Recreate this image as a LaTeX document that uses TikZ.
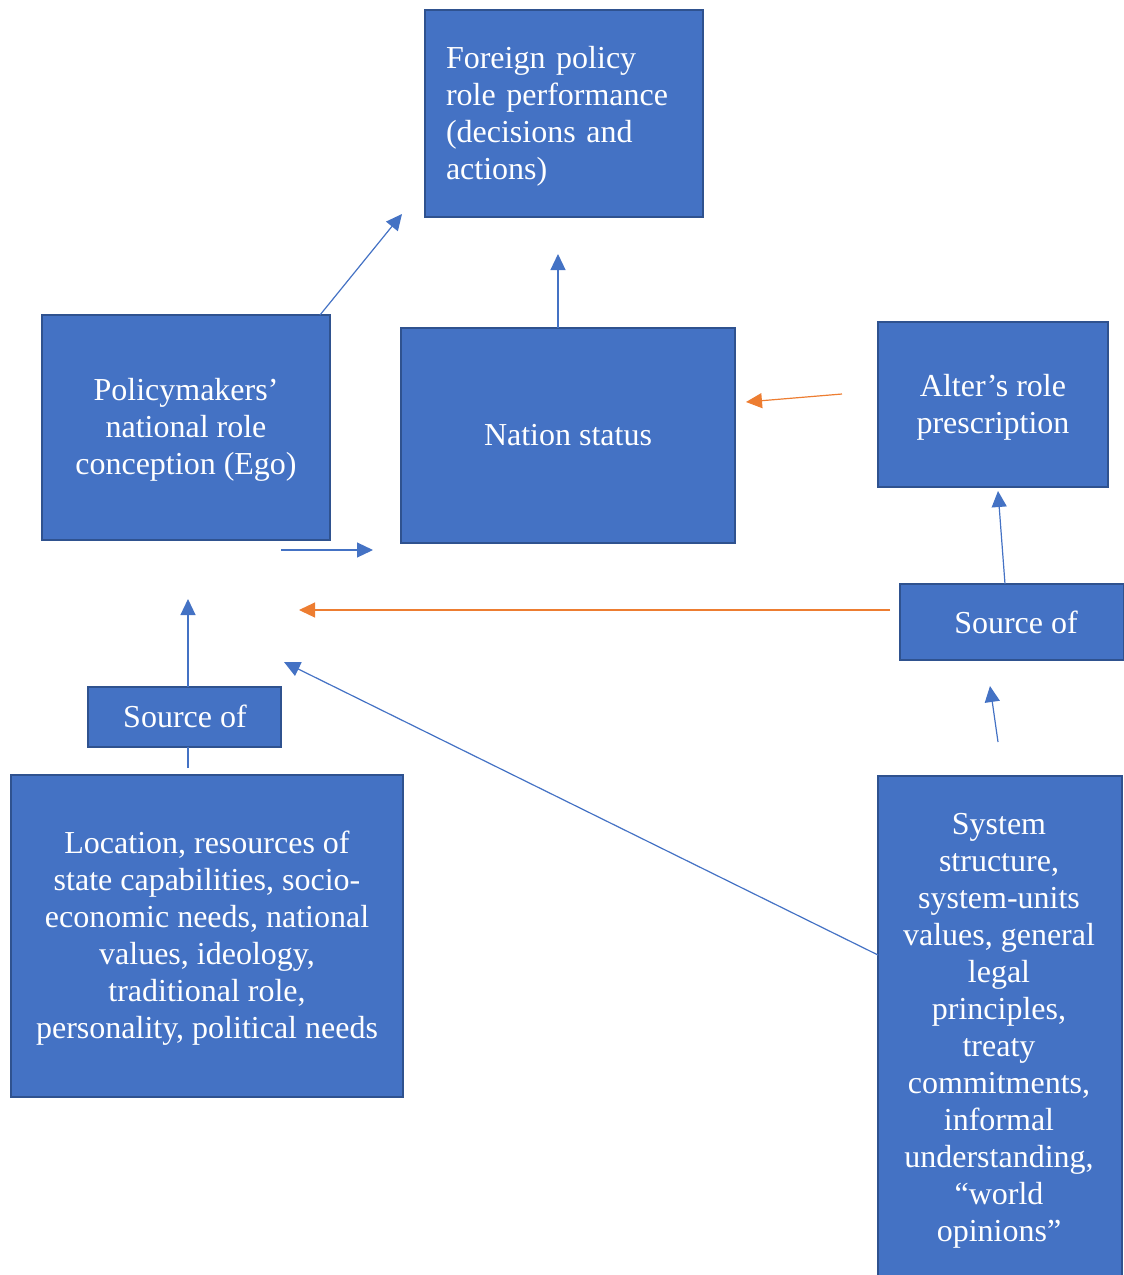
\documentclass[tikz,border=0pt]{standalone}
\usepackage{fontspec}
\setmainfont{Liberation Serif}
\usetikzlibrary{arrows.meta}
\definecolor{boxfill}{HTML}{4472C4}
\definecolor{boxline}{HTML}{2F528F}
\definecolor{arrblue}{HTML}{4472C4}
\definecolor{arrorange}{HTML}{ED7D31}
\begin{document}
\begin{tikzpicture}[x=1pt,y=-1pt,
  box/.style={draw=boxline, fill=boxfill, line width=2pt, text=white, inner sep=0pt,
    font=\fontsize{32}{37}\selectfont, align=center},
  lbl/.style={text=white, inner sep=0pt, font=\fontsize{32}{37}\selectfont, align=center},
  barrow/.style={draw=arrblue, line width=1.2pt, -{Triangle[length=16pt,width=15pt]}},
  oarrow/.style={draw=arrorange, line width=1.2pt, -{Triangle[length=16pt,width=15pt]}},
  bline/.style={draw=arrblue, line width=1.2pt}
]
\useasboundingbox (0,0) rectangle (1124,1275);

% boxes
\node[box, minimum width=278pt, minimum height=207pt] (fp) at (564,113.5) {};
\node[lbl, text width=236pt, align=left] (fptxt) at (564,116)
  {Foreign policy\\role performance\\(decisions and\\actions)};
\node[box, minimum width=288pt, minimum height=225pt] (ego) at (186,427.5) {};
\node[lbl] (egotxt) at (186,429.5)
  {Policymakers’\\national role\\conception (Ego)};
\node[box, minimum width=334pt, minimum height=215pt] (ns) at (568,435.5)
  {Nation status};
\node[box, minimum width=230pt, minimum height=165pt] (alt) at (993,404.5) {};
\node[lbl] (alttxt) at (993,407)
  {Alter’s role\\prescription};
\node[box, minimum width=224pt, minimum height=76pt] (srcr) at (1012,622) {};
\node[lbl] (srcrtxt) at (1016,622) {Source of};
\node[box, minimum width=193pt, minimum height=60pt] (srcl) at (184.5,717) {};
\node[lbl] (srcltxt) at (185,716) {Source of};
\node[box, minimum width=392pt, minimum height=322pt] (loc) at (207,936) {};
\node[lbl] (loctxt) at (207,938)
  {Location, resources of\\state capabilities, socio-\\economic needs, national\\values, ideology,\\traditional role,\\personality, political needs};
\node[box, minimum width=244pt, minimum height=520pt, anchor=north] (sys) at (1000,775) {};
\node[lbl] (systxt) at (999,1031)
  {System\\structure,\\system-units\\values, general\\legal\\principles,\\treaty\\commitments,\\informal\\understanding,\\“world\\opinions”};

% free ends
\coordinate (a1s) at (320,315);
\coordinate (a1e) at (402,214);
\coordinate (a2s) at (558,328);
\coordinate (a2e) at (558,254);
\coordinate (a3s) at (842,394);
\coordinate (a3e) at (746,402);
\coordinate (a4s) at (281,550);
\coordinate (a4e) at (373,550);
\coordinate (a5s) at (890,610);
\coordinate (a5e) at (299,610);
\coordinate (a6s) at (188,687);
\coordinate (a6e) at (188,599);
\coordinate (a7s) at (188,768);
\coordinate (a7e) at (188,747);
\coordinate (a8s) at (878,955);
\coordinate (a8e) at (284,662);
\coordinate (a9s) at (1005,584);
\coordinate (a9e) at (998,491);
\coordinate (a10s) at (998,742);
\coordinate (a10e) at (990,686);

\draw[barrow] (a1s) -- (a1e);
\draw[barrow] (a2s) -- (a2e);
\draw[oarrow] (a3s) -- (a3e);
\draw[barrow] (a4s) -- (a4e);
\draw[oarrow] (a5s) -- (a5e);
\draw[barrow] (a6s) -- (a6e);
\draw[bline] (a7s) -- (a7e);
\draw[barrow] (a8s) -- (a8e);
\draw[barrow] (a9s) -- (a9e);
\draw[barrow] (a10s) -- (a10e);
\end{tikzpicture}
\end{document}
